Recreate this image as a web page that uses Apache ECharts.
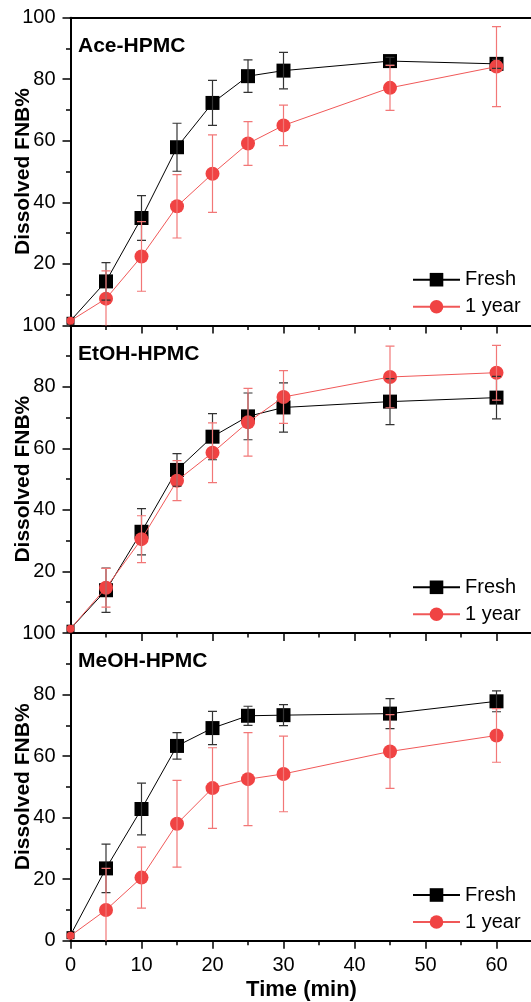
<!DOCTYPE html>
<html>
<head>
<meta charset="utf-8">
<script src="https://cdn.jsdelivr.net/npm/echarts@6/dist/echarts.min.js"></script>
<style>
  html, body { margin: 0; padding: 0; background: #fff; }
  #chart { width: 531px; height: 1002px; }
</style>
</head>
<body>
<div id="chart"></div>
<script>
// time points (min)
const times = [0, 5, 10, 15, 20, 25, 30, 45, 60]
const panelNames = ['Ace-HPMC', 'EtOH-HPMC', 'MeOH-HPMC']
const yTicks = [0, 20, 40, 60, 80, 100]

// Ace-HPMC
const aceFresh = [1.5, 14.3, 34.9, 57.9, 72.3, 81.0, 82.8, 85.9, 85.0]
const aceFreshErr = [0, 6.1, 7.3, 7.8, 7.3, 5.3, 5.9, 1.2, 1.5]
const aceYear = [1.5, 8.7, 22.4, 38.7, 49.3, 59.1, 65.0, 77.2, 84.1]
const aceYearErr = [0, 9.0, 11.3, 10.3, 12.6, 7.1, 6.6, 7.3, 13.0]

// EtOH-HPMC
const etohFresh = [1.4, 13.9, 32.9, 53.0, 63.8, 70.4, 73.3, 75.2, 76.5]
const etohFreshErr = [0, 7.2, 7.5, 5.3, 7.5, 7.6, 8.0, 7.5, 6.9]
const etohYear = [1.4, 14.7, 30.5, 49.5, 58.6, 68.5, 76.7, 83.2, 84.6]
const etohYearErr = [0, 6.3, 7.6, 6.5, 9.7, 11.0, 8.6, 10.0, 8.9]

// MeOH-HPMC
const meohFresh = [1.8, 23.5, 42.8, 63.3, 69.1, 73.1, 73.3, 73.8, 77.8]
const meohFreshErr = [0, 7.9, 8.4, 4.3, 5.4, 3.1, 3.4, 4.9, 3.4]
const meohYear = [1.6, 10.0, 20.5, 38.0, 49.6, 52.5, 54.2, 61.5, 66.7]
const meohYearErr = [0, 13.5, 9.9, 14.1, 13.1, 15.1, 12.3, 12.0, 8.7]

const freshSets = [[aceFresh, aceFreshErr], [etohFresh, etohFreshErr], [meohFresh, meohFreshErr]]
const yearSets = [[aceYear, aceYearErr], [etohYear, etohYearErr], [meohYear, meohYearErr]]

const FONT = 'Liberation Sans, Arial, sans-serif'
const RED = '#f04343'
const panelTops = [17.7, 325.3, 633]
const panelH = 307.7

const chart = echarts.init(document.getElementById('chart'))

function points (vals) {
  return times.map((t, i) => [t, vals[i]])
}
function errPoints (vals, errs) {
  const out = []
  times.forEach((t, i) => {
    if (errs[i] > 0) out.push([t, vals[i] - errs[i], vals[i] + errs[i]])
  })
  return out
}
// vertical error bar with caps
function renderErr (params, api) {
  const x = api.value(0)
  const lo = api.coord([x, api.value(1)])
  const hi = api.coord([x, api.value(2)])
  const w = 4.5
  const style = { stroke: api.visual('color'), lineWidth: 1.2, fill: null }
  return {
    type: 'group',
    children: [
      { type: 'line', shape: { x1: lo[0], y1: lo[1], x2: hi[0], y2: hi[1] }, style: style },
      { type: 'line', shape: { x1: lo[0] - w, y1: lo[1], x2: lo[0] + w, y2: lo[1] }, style: style },
      { type: 'line', shape: { x1: hi[0] - w, y1: hi[1], x2: hi[0] + w, y2: hi[1] }, style: style }
    ]
  }
}
function symSize (val) {
  return val[0] === 0 ? 8 : 14
}

const grids = []
const xAxes = []
const yAxes = []
const titles = []
const legends = []
const series = []

panelTops.forEach((top, k) => {
  const last = k === panelTops.length - 1
  grids.push({ left: 70.5, top: top, width: 497, height: panelH, containLabel: false, outerBoundsMode: 'none' })
  xAxes.push({
    gridIndex: k,
    type: 'value',
    min: 0,
    max: 70,
    interval: 10,
    name: last ? 'Time (min)' : '',
    nameLocation: 'middle',
    nameGap: 38,
    nameMoveOverlap: false,
    nameTextStyle: { fontFamily: FONT, fontSize: 22, fontWeight: 'bold', color: '#000', padding: [0, 35, 0, 0] },
    axisLine: { show: true, onZero: false, lineStyle: { color: '#000', width: 2 } },
    axisTick: { show: true, inside: false, length: 8, lineStyle: { color: '#000', width: 1.5 } },
    minorTick: { show: true, splitNumber: 2, length: 4.5, lineStyle: { color: '#000', width: 1.5 } },
    axisLabel: { show: last, margin: 15, fontFamily: FONT, fontSize: 20, color: '#000', showMaxLabel: false },
    splitLine: { show: false }
  })
  yAxes.push({
    gridIndex: k,
    type: 'value',
    min: 0,
    max: 100,
    interval: 20,
    name: 'Dissolved FNB%',
    nameLocation: 'middle',
    nameGap: 37,
    nameMoveOverlap: false,
    nameTextStyle: { fontFamily: FONT, fontSize: 21, fontWeight: 'bold', color: '#000' },
    axisLine: { show: true, onZero: false, lineStyle: { color: '#000', width: 2 } },
    axisTick: { show: true, inside: false, length: 8, lineStyle: { color: '#000', width: 1.5 } },
    minorTick: { show: true, splitNumber: 2, length: 4.5, lineStyle: { color: '#000', width: 1.5 } },
    axisLabel: {
      margin: 15,
      fontFamily: FONT,
      fontSize: 20,
      color: '#000',
      showMinLabel: last,
      formatter: v => (yTicks.indexOf(v) >= 0 ? String(v) : '')
    },
    splitLine: { show: false }
  })
  titles.push({
    text: panelNames[k],
    left: 78,
    top: top + 18,
    padding: 0,
    textStyle: { fontFamily: FONT, fontSize: 21, fontWeight: 'bold', color: '#000' }
  })
  legends.push({
    data: ['Fresh', '1 year'],
    orient: 'vertical',
    left: 412,
    top: top + 252,
    padding: 0,
    itemGap: 7,
    itemWidth: 47,
    itemHeight: 17,
    selectedMode: false,
    textStyle: { fontFamily: FONT, fontSize: 20, lineHeight: 20, color: '#000' }
  })

  const fr = freshSets[k]
  const yr = yearSets[k]
  series.push({
    name: 'Fresh',
    type: 'line',
    xAxisIndex: k,
    yAxisIndex: k,
    data: points(fr[0]),
    symbol: 'rect',
    symbolSize: symSize,
    itemStyle: { color: '#000' },
    lineStyle: { color: '#000', width: 1 },
    z: 2,
    animation: false
  })
  series.push({
    name: '1 year',
    type: 'line',
    xAxisIndex: k,
    yAxisIndex: k,
    data: points(yr[0]),
    symbol: 'circle',
    symbolSize: symSize,
    itemStyle: { color: RED },
    lineStyle: { color: '#f05858', width: 1 },
    z: 3,
    animation: false
  })
  series.push({
    type: 'custom',
    xAxisIndex: k,
    yAxisIndex: k,
    renderItem: renderErr,
    data: errPoints(fr[0], fr[1]),
    itemStyle: { color: '#333' },
    clip: true,
    z: 4,
    animation: false
  })
  series.push({
    type: 'custom',
    xAxisIndex: k,
    yAxisIndex: k,
    renderItem: renderErr,
    data: errPoints(yr[0], yr[1]),
    itemStyle: { color: '#f27777' },
    clip: true,
    z: 4,
    animation: false
  })
})

// top frame line of the first panel
xAxes.push({
  gridIndex: 0,
  type: 'value',
  position: 'top',
  min: 0,
  max: 70,
  axisLine: { show: true, onZero: false, lineStyle: { color: '#000', width: 2 } },
  axisTick: { show: false },
  axisLabel: { show: false },
  splitLine: { show: false }
})

const option = {
  backgroundColor: '#fff',
  animation: false,
  title: titles,
  legend: legends,
  grid: grids,
  xAxis: xAxes,
  yAxis: yAxes,
  series: series
}
chart.setOption(option)
</script>
</body>
</html>
